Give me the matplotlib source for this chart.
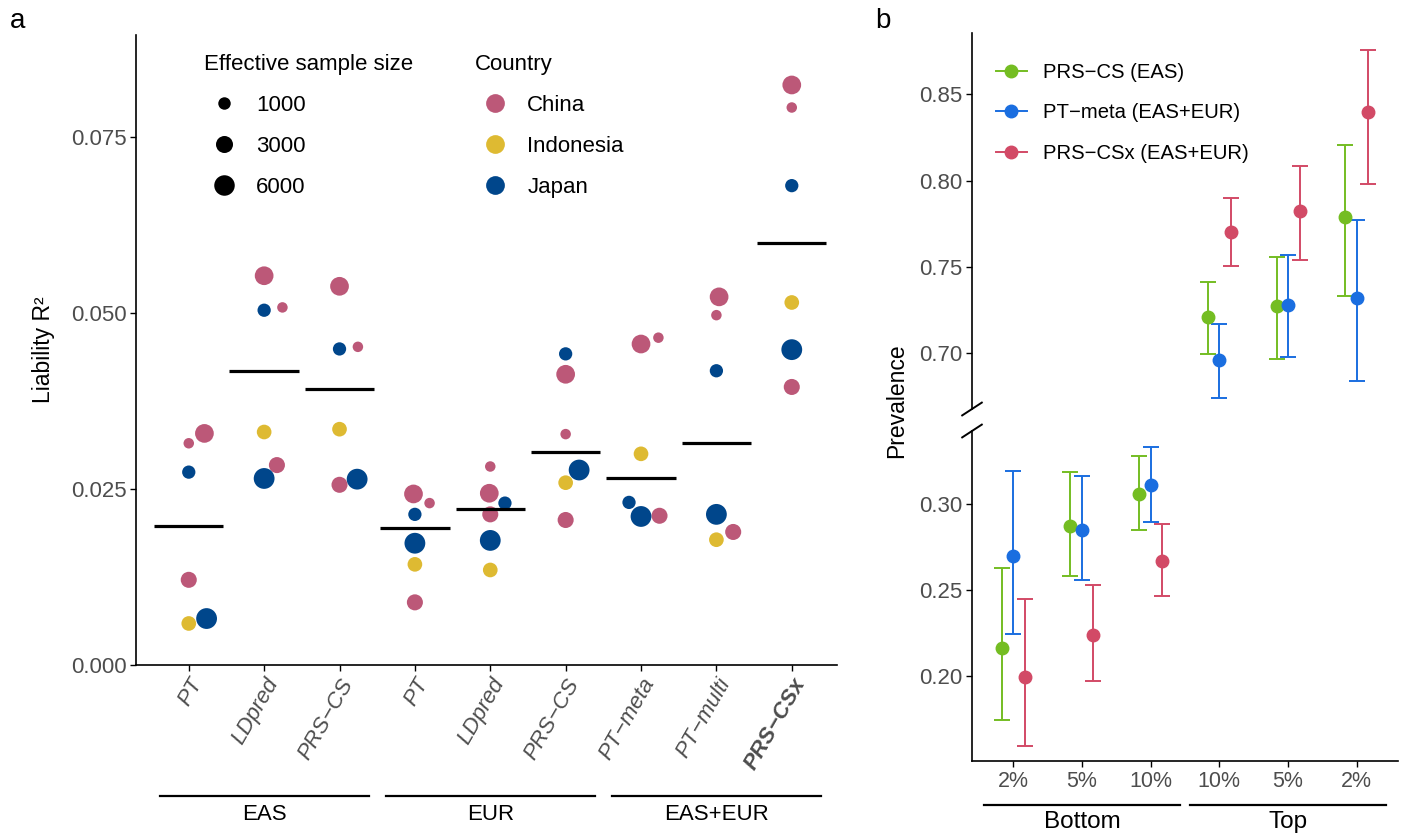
import numpy as np
import matplotlib
matplotlib.use("Agg")
import matplotlib.pyplot as plt
from matplotlib.lines import Line2D
from matplotlib.transforms import blended_transform_factory

plt.rcParams['font.family'] = ['Liberation Sans', 'DejaVu Sans']

# ---------------- panel a data ----------------
methods = ["PT", "LDpred", "PRS−CS", "PT", "LDpred", "PRS−CS",
           "PT−meta", "PT−multi", "PRS−CSx"]
groups = ["EAS", "EUR", "EAS+EUR"]
group_first = [1, 4, 7]
group_last = [3, 6, 9]

cohort_country = ["China", "China", "China", "Indonesia", "Japan", "Japan"]
cohort_neff = [4300, 800, 2400, 1700, 1200, 6300]

r2_china1 = [0.0329, 0.0553, 0.0538, 0.0243, 0.0244, 0.0413, 0.0456, 0.0523, 0.0824]
r2_china2 = [0.0315, 0.0508, 0.0452, 0.0230, 0.0282, 0.0328, 0.0465, 0.0497, 0.0792]
r2_china3 = [0.0121, 0.0284, 0.0256, 0.0089, 0.0214, 0.0206, 0.0212, 0.0189, 0.0395]
r2_indonesia = [0.0059, 0.0331, 0.0335, 0.0143, 0.0135, 0.0259, 0.0300, 0.0178, 0.0515]
r2_japan1 = [0.0274, 0.0504, 0.0449, 0.0214, 0.0230, 0.0442, 0.0231, 0.0418, 0.0681]
r2_japan2 = [0.0066, 0.0265, 0.0264, 0.0173, 0.0177, 0.0277, 0.0211, 0.0214, 0.0448]
r2_mean = [0.0197, 0.0417, 0.0392, 0.0194, 0.0222, 0.0302, 0.0265, 0.0316, 0.0599]

size_breaks = [1000, 3000, 6000]
countries = ["China", "Indonesia", "Japan"]
country_colors = {"China": "#BC5878", "Indonesia": "#DEBA32", "Japan": "#00468B"}

# ---------------- panel b data ----------------
pct_labels = ["2%", "5%", "10%", "10%", "5%", "2%"]
tail_groups = ["Bottom", "Top"]
series = ["PRS−CS (EAS)", "PT−meta (EAS+EUR)", "PRS−CSx (EAS+EUR)"]
series_colors = ["#74BD22", "#1A6EE0", "#D24A66"]

prev_prscs = [0.2164, 0.2873, 0.3056, 0.7208, 0.7272, 0.7789]
lo_prscs = [0.1749, 0.2581, 0.2846, 0.6995, 0.6966, 0.7330]
hi_prscs = [0.2629, 0.3184, 0.3276, 0.7414, 0.7557, 0.8206]
prev_ptmeta = [0.2697, 0.2849, 0.3107, 0.6959, 0.7278, 0.7322]
lo_ptmeta = [0.2243, 0.2556, 0.2894, 0.6742, 0.6978, 0.6837]
hi_ptmeta = [0.3189, 0.3159, 0.3329, 0.7169, 0.7567, 0.7770]
prev_prscsx = [0.1996, 0.2239, 0.2668, 0.7704, 0.7822, 0.8396]
lo_prscsx = [0.1594, 0.1971, 0.2467, 0.7503, 0.7538, 0.7979]
hi_prscsx = [0.2448, 0.2529, 0.2882, 0.7897, 0.8085, 0.8757]

DPI = 100
GREY = "#4D4D4D"


def size_px(n):
    # area-style size scale, like ggplot's scale_size
    return 10.5 + 10.3 * np.sqrt(np.clip((np.asarray(n) - 800) / 5500, 0, None))


def swarm(ys, d):
    """Beeswarm offsets (pixels), points placed in ascending order."""
    order = np.argsort(ys, kind="stable")
    placed = []
    xs = np.zeros(len(ys))
    for i in order:
        y = ys[i]
        cands = [0.0]
        for px, py in placed:
            dy = abs(y - py)
            if dy < d:
                dx = np.sqrt(d * d - dy * dy)
                cands += [px + dx, px - dx]
        ok = [c for c in cands
              if all((c - px) ** 2 + (y - py) ** 2 >= d * d - 1e-6 for px, py in placed)]
        best = min(ok, key=lambda c: (round(abs(c), 6), -c))
        xs[i] = best
        placed.append((best, y))
    return xs


fig = plt.figure(figsize=(14.25, 8.33), dpi=DPI)

# ================= panel a =================
ax = fig.add_axes([136 / 1425, 168 / 833, 701 / 1425, 630 / 833])
ax.set_xlim(0.3, 9.6)
ax.set_ylim(0, 0.0895)

r2 = np.array([r2_china1, r2_china2, r2_china3, r2_indonesia, r2_japan1, r2_japan2])
diam = size_px(cohort_neff)

fig.canvas.draw()
px_per_x = ax.transData.transform((1, 0))[0] - ax.transData.transform((0, 0))[0]
for j in range(len(methods)):
    ys_px = ax.transData.transform(np.column_stack([np.full(6, j + 1), r2[:, j]]))[:, 1]
    offs = swarm(ys_px, 18.5) / px_per_x
    for k in range(6):
        ax.scatter(j + 1 + offs[k], r2[k, j], s=(diam[k] * 72 / DPI) ** 2,
                   color=country_colors[cohort_country[k]], edgecolors="none",
                   zorder=3, clip_on=False)
    ax.hlines(r2_mean[j], j + 1 - 0.46, j + 1 + 0.46, color="black", lw=2.3, zorder=4)

for s in ["top", "right"]:
    ax.spines[s].set_visible(False)
for s in ["left", "bottom"]:
    ax.spines[s].set_linewidth(1.2)
ax.tick_params(width=1.0, length=4, color="black", labelsize=16, labelcolor=GREY, pad=3)
ax.set_yticks([0, 0.025, 0.05, 0.075])
ax.set_yticklabels(["0.000", "0.025", "0.050", "0.075"])
ax.set_xticks(range(1, 10))
ax.set_xticklabels(methods, rotation=60, ha="right", va="top",
                   rotation_mode="anchor", style="italic", fontsize=16)
ax.get_xticklabels()[-1].set_fontweight("bold")
ax.set_ylabel("Liability R²", fontsize=16.5)
ax.yaxis.set_label_coords(-0.116, 0.5)

tr = blended_transform_factory(ax.transData, ax.transAxes)
for g, a, b in zip(groups, group_first, group_last):
    ax.plot([a - 0.385, b + 0.385], [-0.208, -0.208], color="black", lw=1.6,
            transform=tr, clip_on=False)
    ax.text((a + b) / 2, -0.238, g, transform=tr, ha="center", va="center", fontsize=16)

size_handles = [Line2D([], [], ls="none", marker="o", mec="none", mfc="black",
                       ms=size_px(n) * 72 / DPI) for n in size_breaks]
leg1 = ax.legend(size_handles, [str(n) for n in size_breaks], title="Effective sample size",
                 loc="upper left", bbox_to_anchor=(0.097, 0.970), frameon=False,
                 fontsize=16, title_fontsize=16, borderpad=0, borderaxespad=0,
                 handlelength=1.8, handletextpad=0.55, labelspacing=0.9, alignment="left")
ax.add_artist(leg1)
country_handles = [Line2D([], [], ls="none", marker="o", mec="none",
                          mfc=country_colors[c], ms=13.5) for c in countries]
ax.legend(country_handles, countries, title="Country",
          loc="upper left", bbox_to_anchor=(0.4836, 0.970), frameon=False,
          fontsize=16, title_fontsize=16, borderpad=0, borderaxespad=0,
          handlelength=1.8, handletextpad=0.55, labelspacing=0.9, alignment="left")

# ================= panel b =================
axu = fig.add_axes([972 / 1425, 424 / 833, 426 / 1425, 376 / 833])
axl = fig.add_axes([972 / 1425, 72 / 833, 426 / 1425, 330 / 833], sharex=axu)
axu.set_ylim(0.6676, 0.8855)
axl.set_ylim(0.1509, 0.3421)
axl.set_xlim(0.4, 6.6)

xpos = np.arange(1, 7)
prev = [prev_prscs, prev_ptmeta, prev_prscsx]
lows = [lo_prscs, lo_ptmeta, lo_prscsx]
highs = [hi_prscs, hi_ptmeta, hi_prscsx]
dodge = 0.5
for i in range(3):
    x = xpos + (i - 1) * dodge / 3
    y = np.array(prev[i])
    err = [y - np.array(lows[i]), np.array(highs[i]) - y]
    for a_ in (axu, axl):
        a_.errorbar(x, y, yerr=err, fmt="o", color=series_colors[i], ms=9,
                    elinewidth=1.4, capsize=6, capthick=1.4, zorder=3)

for a_ in (axu, axl):
    for s in ["top", "right"]:
        a_.spines[s].set_visible(False)
    a_.spines["left"].set_linewidth(1.2)
    a_.tick_params(width=1.0, length=4, color="black", labelsize=16, labelcolor=GREY, pad=3)
axu.spines["bottom"].set_visible(False)
axu.tick_params(axis="x", bottom=False, labelbottom=False)
axl.spines["bottom"].set_linewidth(1.2)
axu.set_yticks([0.70, 0.75, 0.80, 0.85])
axu.set_yticklabels(["0.70", "0.75", "0.80", "0.85"])
axl.set_yticks([0.20, 0.25, 0.30])
axl.set_yticklabels(["0.20", "0.25", "0.30"])
axl.set_xticks(xpos)
axl.set_xticklabels(pct_labels, fontsize=15.5)

# axis break marks (same pixel size on both axes)
for a_, yy in ((axu, 0.0), (axl, 1.0)):
    h = 6.4 / a_.bbox.height
    a_.plot([-0.023, 0.023], [yy - h, yy + h],
            transform=a_.transAxes, color="black", lw=1.4, clip_on=False)

fig.text(897 / 1425, 1 - 401 / 833, "Prevalence", rotation=90, ha="center", va="center",
         fontsize=16.5)

trl = blended_transform_factory(axl.transData, axl.transAxes)
for g, a, b in zip(tail_groups, [1, 4], [3, 6]):
    axl.plot([a - 0.43, b + 0.43], [-0.133, -0.133], color="black", lw=1.6,
             transform=trl, clip_on=False)
    axl.text((a + b) / 2, -0.186, g, transform=trl, ha="center", va="center", fontsize=17.5)

series_handles = [Line2D([], [], color=c, lw=1.4, marker="o", ms=9) for c in series_colors]
axu.legend(series_handles, series, loc="upper left", bbox_to_anchor=(0.0563, 0.921),
           frameon=False, fontsize=14.6, borderpad=0, borderaxespad=0,
           handlelength=1.51, handletextpad=0.8, labelspacing=1.07)

fig.text(10 / 1425, 1 - 28 / 833, "a", fontsize=20, va="baseline")
fig.text(875 / 1425, 1 - 28 / 833, "b", fontsize=20, va="baseline")

fig.savefig("out.png", dpi=DPI)
